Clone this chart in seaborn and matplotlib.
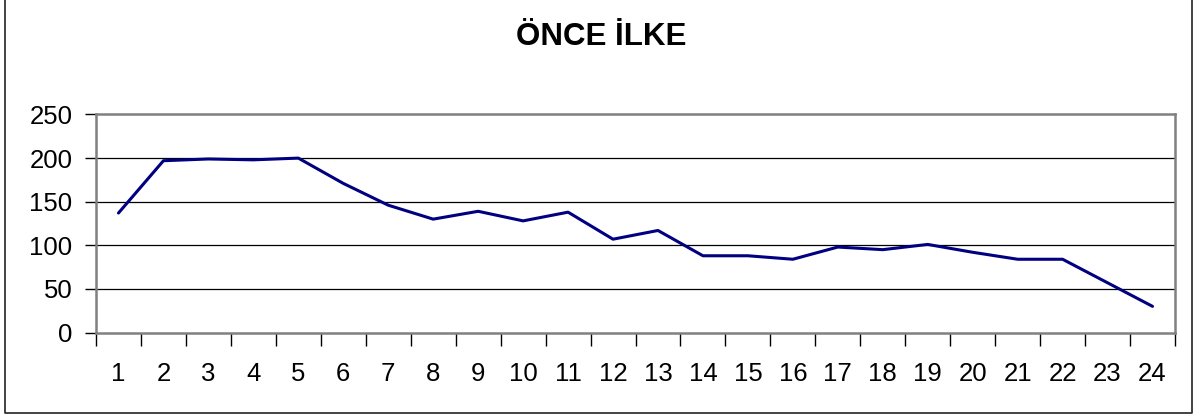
import numpy as np
import pandas as pd
import matplotlib
matplotlib.use("Agg")
import matplotlib.pyplot as plt
from matplotlib.lines import Line2D
import seaborn as sns

# values
periods = list(range(1, 25))
values = [137, 197, 199, 198, 200, 171, 146, 130, 139, 128, 138, 107,
          117, 88, 88, 84, 98, 95, 101, 92, 84, 84, 57, 30]
y_ticks = [0, 50, 100, 150, 200, 250]
title = "ÖNCE İLKE"

df = pd.DataFrame({"period": periods, "value": values})

sns.set_style("white")
plt.rcParams["font.family"] = ["Liberation Sans", "DejaVu Sans"]
plt.rcParams["text.color"] = "black"
plt.rcParams["xtick.color"] = "black"
plt.rcParams["ytick.color"] = "black"

W, H = 1195, 419
fig = plt.figure(figsize=(W / 100, H / 100), dpi=100)
ax = fig.add_axes([96 / W, 1 - 332.5 / H, (1175 - 96) / W, (332.5 - 114.5) / H])

sns.lineplot(data=df, x="period", y="value", ax=ax, color="#000080", linewidth=2.2)

ax.set_xlim(0.5, 24.5)
ax.set_ylim(0, 250)
ax.set_yticks(y_ticks)
ax.set_xticks(np.arange(0.5, 25, 1))
ax.set_xticklabels([])
ax.set_xticks(periods, minor=True)
ax.set_xticklabels([str(p) for p in periods], minor=True)
ax.tick_params(axis="x", which="major", direction="out", length=9, width=1,
               bottom=True)
ax.tick_params(axis="x", which="minor", length=0, pad=21, labelsize=18.5)
ax.tick_params(axis="y", direction="out", length=8, width=1,
               left=True, pad=9, labelsize=18.5)
ax.set_xlabel("")
ax.set_ylabel("")

for v in y_ticks[1:-1]:
    ax.axhline(v, color="black", linewidth=0.9, zorder=1)
for s in ax.spines.values():
    s.set_color("#808080")
    s.set_linewidth(1.8)

fig.text(601 / W, 1 - 45 / H, title, ha="center", va="baseline",
         fontsize=22.5, fontweight="bold", color="black")

# outer chart border (top edge sits outside the image)
bx0, bx1, by = 4.5 / W, 1192 / W, 1 - 413 / H
fig.add_artist(Line2D([bx0, bx0, bx1, bx1], [1.01, by, by, 1.01],
                      transform=fig.transFigure, color="#222222", linewidth=1.2))

fig.savefig("out.png", dpi=100, facecolor="white")
